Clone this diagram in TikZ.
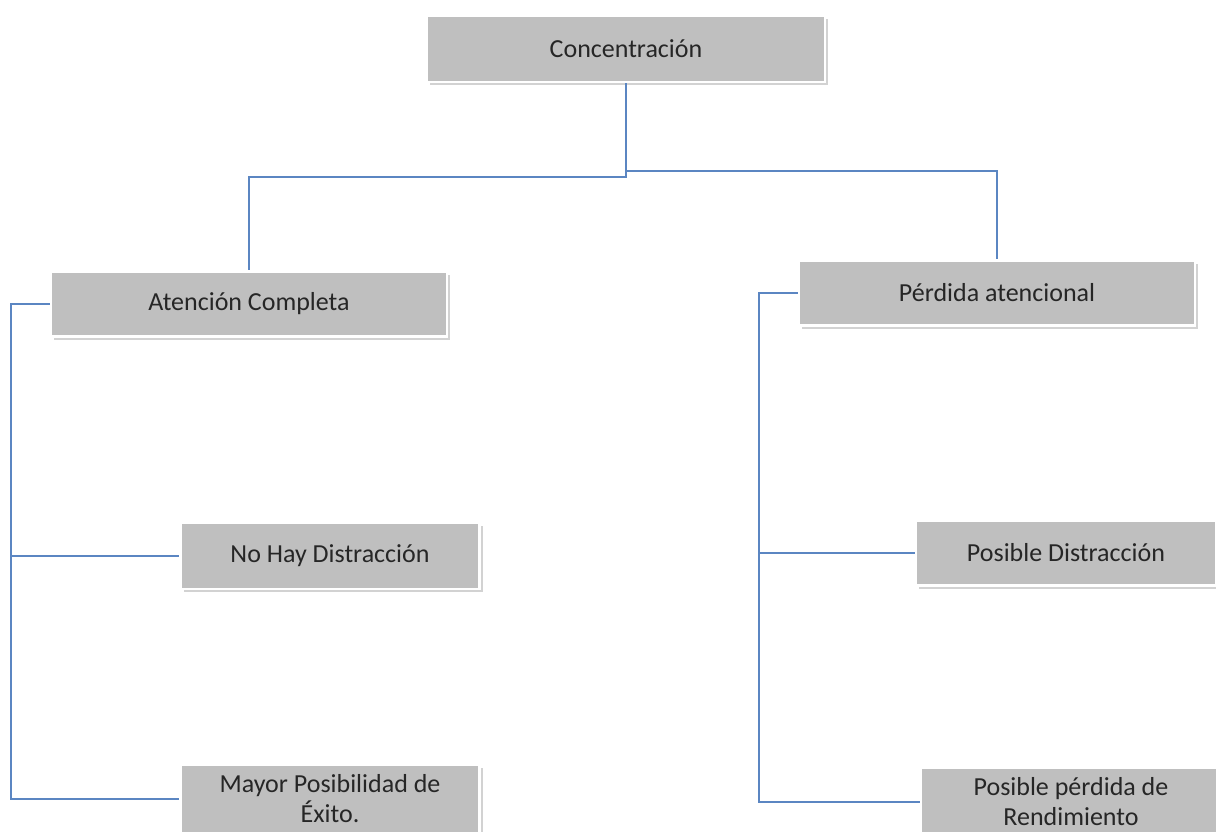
\documentclass[tikz,border=0pt]{standalone}
\usepackage{fontspec}
\setmainfont{Carlito}
\usetikzlibrary{shadows}
\definecolor{boxgray}{HTML}{BFBFBF}
\definecolor{linkblue}{HTML}{5B86C2}
\definecolor{txt}{HTML}{262626}
\tikzset{
  box/.style={rectangle, fill=boxgray, draw=white, line width=2.5pt,
    text=txt, font=\fontsize{26}{30}\selectfont, align=center, inner sep=0pt,
    drop shadow={shadow xshift=3pt, shadow yshift=-3pt, fill=black!35, opacity=0.5}},
  link/.style={draw=linkblue, line width=1.8pt}
}
\begin{document}
\begin{tikzpicture}[x=1pt,y=-1pt]
\clip (0,0) rectangle (1216,832);
\fill[white] (0,0) rectangle (1216,832);

% boxes
\node[box, minimum width=398, minimum height=66] (c) at (626,49) {Concentración};
\node[box, minimum width=396, minimum height=65] (a) at (249,304) {Atención Completa};
\node[box, minimum width=396, minimum height=65] (p) at (997,293) {Pérdida atencional};
\node[box, minimum width=299, minimum height=66] (n) at (330,556) {No Hay Distracción};
\node[box, minimum width=300, minimum height=65] (d) at (1066,553) {Posible Distracción};
\node[box, minimum width=299, minimum height=68] (m) at (330,799) {Mayor Posibilidad de\\Éxito.};
\node[box, minimum width=300, minimum height=68] (r) at (1071,802) {Posible pérdida de\\Rendimiento};

% connectors
\draw[link] (c.south) -- (c.south |- 0,177) -| (a.north);
\draw[link] (c.south |- 0,171) -| (p.north);
\draw[link] (a.west) -- ++(-39,0) coordinate (aj) |- (n.west);
\draw[link] (aj) |- (m.west);
\draw[link] (p.west) -- ++(-39,0) coordinate (pj) |- (d.west);
\draw[link] (pj) |- (r.west);
\end{tikzpicture}
\end{document}
